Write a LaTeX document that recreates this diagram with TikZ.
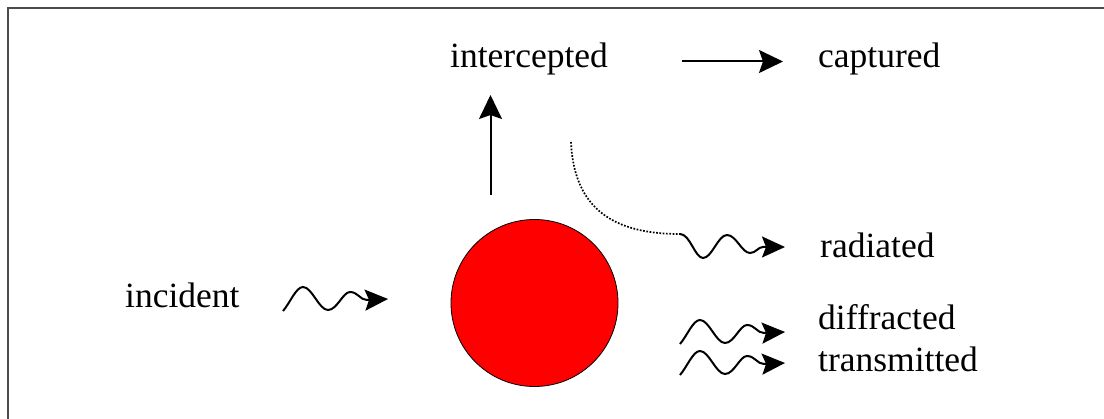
\documentclass[tikz,border=0pt]{standalone}
\usepackage{fontspec}
\setmainfont{Liberation Serif}
\usetikzlibrary{arrows.meta}
\begin{document}
\begin{tikzpicture}[x=1pt,y=-1pt,
  lbl/.style={anchor=base west,inner sep=0pt,font=\fontsize{35.5}{40}\selectfont},
  arr/.style={line width=2pt,-{Stealth[length=24pt,width=23pt,inset=4pt]}},
  wv/.style={line width=2pt,-{Stealth[length=23pt,width=21pt,inset=4pt]}},
  dotline/.style={line width=1.7pt,dash pattern=on 1.7pt off 1.6pt},
  pics/wavea/.style={code={
    \draw[wv] (0,0) .. controls (7,-8) and (13,-24) .. (20,-24)
      .. controls (29,-24) and (36,-1) .. (45,-1)
      .. controls (54,-1) and (60,-19) .. (67,-19)
      .. controls (75,-19) and (77,-11) .. (84,-11) -- (105,-12);}}]
\useasboundingbox (0,0) rectangle (1104,419);
% frame
\draw[line width=1.6pt,gray!60!black] (8,419) -- (8,8) -- (1104,8);
% body
\node[circle,draw=black,line width=0.8pt,fill=red,minimum size=167pt,inner sep=0pt] (ball) at (534.5,303) {};
% labels
\node[lbl] (intercepted) at (450,68) {intercepted};
\node[lbl] (captured) at (818,68) {captured};
\node[lbl] (radiated) at (820,258) {radiated};
\node[lbl] (incident) at (125,308) {incident};
\node[lbl] (diffracted) at (818,330) {diffracted};
\node[lbl] (transmitted) at (818,372) {transmitted};
% straight arrows
\coordinate (upS) at (490.5,195);
\coordinate (upE) at (490.5,95);
\draw[arr] (upS) -- (upE);
\coordinate (capS) at (682,61.5);
\coordinate (capE) at (783,61.5);
\draw[arr] (capS) -- (capE);
% waves
\coordinate (incW) at (283,311);
\coordinate (difW) at (680,344);
\coordinate (traW) at (680,375);
\pic at (incW) {wavea};
\pic at (difW) {wavea};
\pic at (traW) {wavea};
% radiated
\coordinate (radS) at (571,142);
\coordinate (radM) at (680,234);
\coordinate (radE) at (785,247);
\draw[dotline] (radS) .. controls (574,210) and (615,234) .. (radM);
\draw[wv] (radM) .. controls (690,234) and (695,258) .. (703,258)
  .. controls (712,258) and (718,235) .. (727,235)
  .. controls (736,235) and (742,253) .. (750,253)
  .. controls (756,253) and (758,247) .. (763,247) -- (radE);
\end{tikzpicture}
\end{document}
